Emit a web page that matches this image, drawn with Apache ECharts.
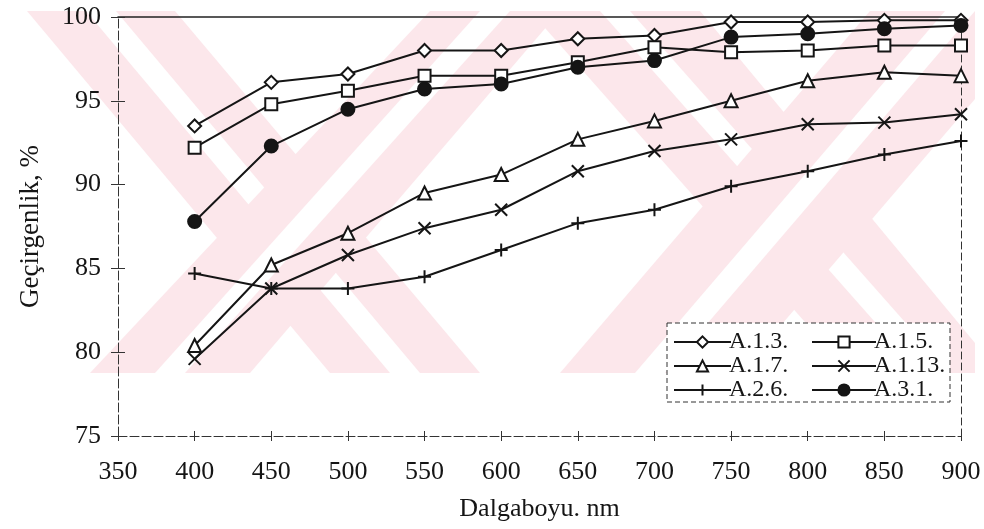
<!DOCTYPE html>
<html>
<head>
<meta charset="utf-8">
<script src="https://cdn.jsdelivr.net/npm/echarts@6/dist/echarts.min.js"></script>
<style>
  html, body { margin: 0; padding: 0; background: #fff; }
  #chart { width: 984px; height: 529px; }
</style>
</head>
<body>
<div id="chart"></div>
<script>
// Wavelengths (nm) and transmittance (%) of each sample
const wavelengths = [400, 450, 500, 550, 600, 650, 700, 750, 800, 850, 900];
const a13  = [93.5, 96.1, 96.6, 98.0, 98.0, 98.7, 98.9, 99.7, 99.7, 99.8, 99.8];
const a15  = [92.2, 94.8, 95.6, 96.5, 96.5, 97.3, 98.2, 97.9, 98.0, 98.3, 98.3];
const a17  = [80.4, 85.2, 87.1, 89.5, 90.6, 92.7, 93.8, 95.0, 96.2, 96.7, 96.5];
const a113 = [79.6, 83.8, 85.8, 87.4, 88.5, 90.8, 92.0, 92.7, 93.6, 93.7, 94.2];
const a26  = [84.7, 83.8, 83.8, 84.5, 86.1, 87.7, 88.5, 89.9, 90.8, 91.8, 92.6];
const a31  = [87.8, 92.3, 94.5, 95.7, 96.0, 97.0, 97.4, 98.8, 99.0, 99.3, 99.5];

const seriesNames = ['A.1.3.', 'A.1.5.', 'A.1.7.', 'A.1.13.', 'A.2.6.', 'A.3.1.'];
const xTitle = 'Dalgaboyu. nm';
const yTitle = 'Geçirgenlik, %';

const INK = '#151515';
const FONT = "'Liberation Serif', 'Times New Roman', serif";

const CROSS = 'path://M0,0L10,10M10,0L0,10';
const PLUS = 'path://M5,0L5,10M0,5L10,5';

function pairs(vals) {
  return wavelengths.map((w, i) => [w, vals[i]]);
}

function lineSeries(name, vals, symbol, size, filled) {
  return {
    name: name,
    type: 'line',
    data: pairs(vals),
    symbol: symbol,
    symbolSize: size,
    showAllSymbol: true,
    lineStyle: { color: INK, width: 2 },
    itemStyle: {
      color: filled ? INK : '#fff',
      borderColor: INK,
      borderWidth: 2
    },
    emphasis: { disabled: true },
    animation: false,
    z: 3
  };
}

// pale striped background mark behind the plot (pink bands, each with a white centre line)
const PINK = '#fce7eb';
const bands = [
  { fill: PINK, pts: [[27, 11], [175, 11], [480, 373], [330, 373]] },
  { fill: '#fff', pts: [[86, 11], [116, 11], [420, 373], [390, 373]] },
  { fill: PINK, pts: [[90, 373], [250, 373], [560, 11], [430, 11]] },
  { fill: '#fff', pts: [[155, 373], [185, 373], [510, 11], [480, 11]] },
  { fill: PINK, pts: [[530, 11], [700, 11], [975, 343], [975, 373], [850, 373]] },
  { fill: '#fff', pts: [[600, 11], [630, 11], [950, 373], [920, 373]] },
  { fill: PINK, pts: [[560, 373], [740, 373], [975, 99], [975, 11], [870, 11]] },
  { fill: '#fff', pts: [[635, 373], [665, 373], [975, 11], [945, 11]] }
];
const watermark = bands.map((b, i) => ({
  type: 'polygon',
  z: -10 + i,
  silent: true,
  shape: { points: b.pts },
  style: { fill: b.fill, stroke: null }
}));

const chart = echarts.init(document.getElementById('chart'), null, { renderer: 'canvas' });

const xBase = { type: 'value', min: 350, max: 900, interval: 50, splitLine: { show: false } };
const yBase = { type: 'value', min: 75, max: 100, interval: 5, splitLine: { show: false } };

const legendCommon = {
  orient: 'vertical',
  top: 325,
  itemHeight: 14,
  itemGap: 0,
  selectedMode: false,
  z: 12,
  textStyle: { fontSize: 24, fontFamily: FONT, color: INK, padding: [0, 0, 0, -7] }
};

chart.setOption({
  animation: false,
  backgroundColor: '#fff',
  grid: { left: 118, right: 23, top: 17, bottom: 93 },
  graphic: watermark.concat([
    {
      type: 'rect',
      z: 10,
      silent: true,
      shape: { x: 667, y: 323, width: 283, height: 79 },
      style: { fill: '#fff', stroke: '#333', lineWidth: 1, lineDash: [5, 3] }
    }
  ]),
  xAxis: [
    Object.assign({}, xBase, {
      position: 'bottom',
      axisLine: { show: true, lineStyle: { color: '#333', width: 1, type: [9, 3] } },
      axisTick: { show: true, inside: false, length: 5, lineStyle: { color: '#333' } },
      axisLabel: { fontSize: 26, fontFamily: FONT, color: INK, margin: 23 },
      name: xTitle,
      nameLocation: 'middle',
      nameGap: 60,
      nameTextStyle: { fontSize: 26, fontFamily: FONT, color: INK }
    }),
    Object.assign({}, xBase, {
      position: 'bottom',
      axisLine: { show: false },
      axisTick: { show: true, inside: true, length: 5, lineStyle: { color: '#333' } },
      axisLabel: { show: false }
    }),
    Object.assign({}, xBase, {
      position: 'top',
      axisLine: { show: true, lineStyle: { color: '#222', width: 1.5 } },
      axisTick: { show: false },
      axisLabel: { show: false }
    })
  ],
  yAxis: [
    Object.assign({}, yBase, {
      position: 'left',
      axisLine: { show: true, lineStyle: { color: '#333', width: 1, type: [9, 3] } },
      axisTick: { show: true, inside: false, length: 7, lineStyle: { color: '#333' } },
      axisLabel: { fontSize: 26, fontFamily: FONT, color: INK, margin: 17 },
      name: yTitle,
      nameLocation: 'middle',
      nameGap: 74,
      nameRotate: 90,
      nameTextStyle: { fontSize: 27, fontFamily: FONT, color: INK }
    }),
    Object.assign({}, yBase, {
      position: 'left',
      axisLine: { show: false },
      axisTick: { show: true, inside: true, length: 7, lineStyle: { color: '#333' } },
      axisLabel: { show: false }
    }),
    Object.assign({}, yBase, {
      position: 'right',
      axisLine: { show: true, lineStyle: { color: '#333', width: 1, type: [7, 4] } },
      axisTick: { show: false },
      axisLabel: { show: false }
    })
  ],
  legend: [
    Object.assign({}, legendCommon, {
      data: [seriesNames[0], seriesNames[2], seriesNames[4]],
      left: 668,
      itemWidth: 57
    }),
    Object.assign({}, legendCommon, {
      data: [seriesNames[1], seriesNames[3], seriesNames[5]],
      left: 806,
      itemWidth: 64
    })
  ],
  series: [
    lineSeries(seriesNames[0], a13, 'diamond', 13, false),
    lineSeries(seriesNames[1], a15, 'rect', 12, false),
    lineSeries(seriesNames[2], a17, 'triangle', 13, false),
    lineSeries(seriesNames[3], a113, CROSS, 12, true),
    lineSeries(seriesNames[4], a26, PLUS, 13, true),
    lineSeries(seriesNames[5], a31, 'circle', 13, true)
  ]
});
</script>
</body>
</html>
